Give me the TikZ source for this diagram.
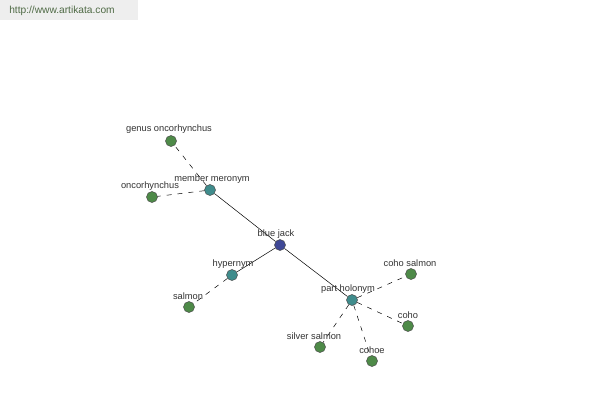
\documentclass[tikz,border=0pt]{standalone}
\usepackage{fontspec}
\setmainfont{Liberation Sans}
\definecolor{leaf}{HTML}{4E8A48}
\definecolor{mid}{HTML}{3F8C8C}
\definecolor{root}{HTML}{3F4896}
\definecolor{lbl}{HTML}{333333}
\definecolor{hdr}{HTML}{EEEEEE}
\definecolor{hdrtxt}{HTML}{4F6A45}
\tikzset{
  dot/.style={circle,draw=black!70,line width=0.5pt,minimum size=11pt,inner sep=0pt},
  leafdot/.style={dot,fill=leaf},
  middot/.style={dot,fill=mid},
  rootdot/.style={dot,fill=root},
  lab/.style={font=\fontsize{9.3}{10}\selectfont,text=lbl,inner sep=0pt},
  solidedge/.style={draw=black,line width=0.5pt},
  dashedge/.style={draw=black,line width=0.5pt,dash pattern=on 5pt off 6pt},
}
\begin{document}
\begin{tikzpicture}[x=1pt,y=-1pt]
\useasboundingbox (0,0) rectangle (600,400);
\fill[white] (0,0) rectangle (600,400);
\fill[hdr] (0,0) rectangle (138,20);
\node[font=\fontsize{10.2}{11}\selectfont,text=hdrtxt,inner sep=0pt] (url) at (62,11) {http://www.artikata.com};
% nodes
\node[rootdot] (bj) at (280,245) {};
\node[middot] (mm) at (210,190) {};
\node[leafdot] (go) at (171,141) {};
\node[leafdot] (on) at (152,197) {};
\node[middot] (hy) at (232,275) {};
\node[leafdot] (sa) at (189,307) {};
\node[middot] (ph) at (352,300) {};
\node[leafdot] (cs) at (411,274) {};
\node[leafdot] (co) at (408,326) {};
\node[leafdot] (ss) at (320,347) {};
\node[leafdot] (ce) at (372,361) {};
% edges
\draw[solidedge] (bj) -- (mm);
\draw[solidedge] (bj) -- (hy);
\draw[solidedge] (bj) -- (ph);
\draw[dashedge] (mm) -- (go);
\draw[dashedge] (mm) -- (on);
\draw[dashedge] (hy) -- (sa);
\draw[dashedge] (ph) -- (cs);
\draw[dashedge] (ph) -- (co);
\draw[dashedge] (ph) -- (ss);
\draw[dashedge] (ph) -- (ce);
% labels
\node[lab] (lbj) at (276,234) {blue jack};
\node[lab] (lmm) at (212,179) {member meronym};
\node[lab] (lgo) at (169,129) {genus oncorhynchus};
\node[lab] (lon) at (150,186) {oncorhynchus};
\node[lab] (lhy) at (233,264) {hypernym};
\node[lab] (lsa) at (188,296) {salmon};
\node[lab] (lph) at (348,289) {part holonym};
\node[lab] (lcs) at (410,263) {coho salmon};
\node[lab] (lco) at (408,315) {coho};
\node[lab] (lss) at (314,336) {silver salmon};
\node[lab] (lce) at (372,350) {cohoe};
\end{tikzpicture}
\end{document}
